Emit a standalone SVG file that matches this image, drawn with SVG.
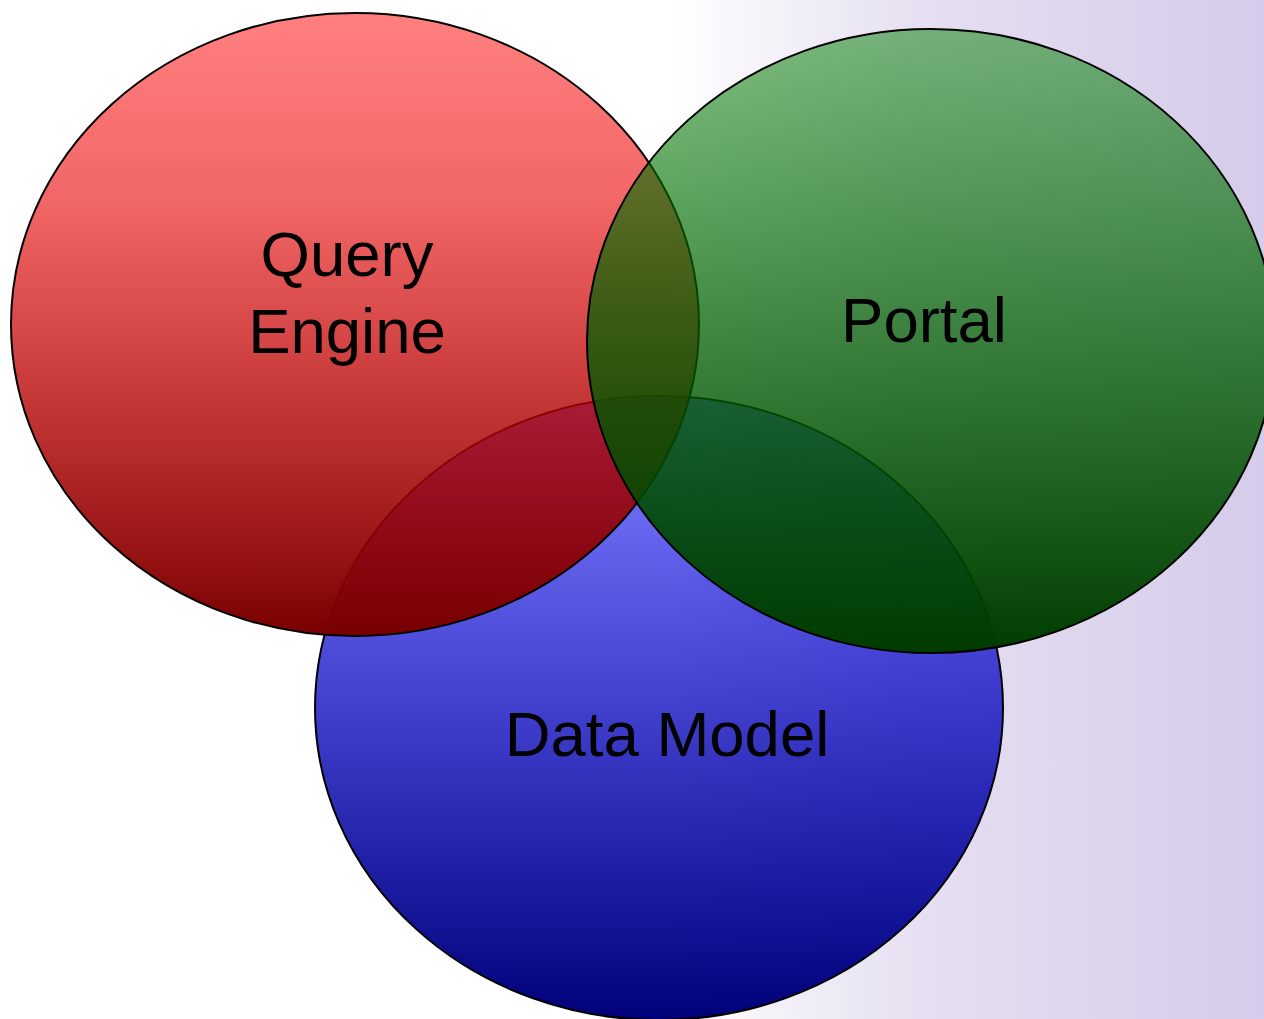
<svg xmlns="http://www.w3.org/2000/svg" width="1264" height="1019" viewBox="0 0 1264 1019">
  <defs>
    <linearGradient id="bg" x1="0" y1="0" x2="1" y2="0">
      <stop offset="0" stop-color="#ffffff"/>
      <stop offset="0.53" stop-color="#ffffff"/>
      <stop offset="0.72" stop-color="#e6e0f1"/>
      <stop offset="1" stop-color="#d5cbea"/>
    </linearGradient>
    <linearGradient id="gRed" x1="0" y1="0" x2="0" y2="1">
      <stop offset="0" stop-color="#ff0000" stop-opacity="0.5"/>
      <stop offset="0.3" stop-color="#e80000" stop-opacity="0.6"/>
      <stop offset="1" stop-color="#780000" stop-opacity="1"/>
    </linearGradient>
    <linearGradient id="gGreen" x1="0" y1="0" x2="0" y2="1">
      <stop offset="0" stop-color="#008000" stop-opacity="0.5"/>
      <stop offset="1" stop-color="#003c00" stop-opacity="1"/>
    </linearGradient>
    <linearGradient id="gBlue" x1="0" y1="0" x2="0" y2="1">
      <stop offset="0" stop-color="#0000ff" stop-opacity="0.5"/>
      <stop offset="1" stop-color="#000078" stop-opacity="1"/>
    </linearGradient>
  </defs>
  <style>
    .set { stroke: #000000; stroke-width: 2; }
    .lbl { font-family: "Liberation Sans", Arial, sans-serif; font-size: 63.5px; fill: #000000; text-anchor: middle; }
  </style>
  <rect x="0" y="0" width="1264" height="1019" fill="url(#bg)"/>
  <g id="connectors"></g>
  <g id="data-model">
    <ellipse class="set" cx="659" cy="708" rx="344" ry="312" fill="url(#gBlue)"/>
    <text class="lbl" x="667" y="756">Data Model</text>
  </g>
  <g id="query-engine">
    <ellipse class="set" cx="355" cy="324.5" rx="344" ry="311.5" fill="url(#gRed)"/>
    <text class="lbl" x="347" y="276">Query</text>
    <text class="lbl" x="347" y="353">Engine</text>
  </g>
  <g id="portal">
    <ellipse class="set" cx="931" cy="341" rx="344" ry="312" fill="url(#gGreen)"/>
    <text class="lbl" x="924" y="342">Portal</text>
  </g>
</svg>
